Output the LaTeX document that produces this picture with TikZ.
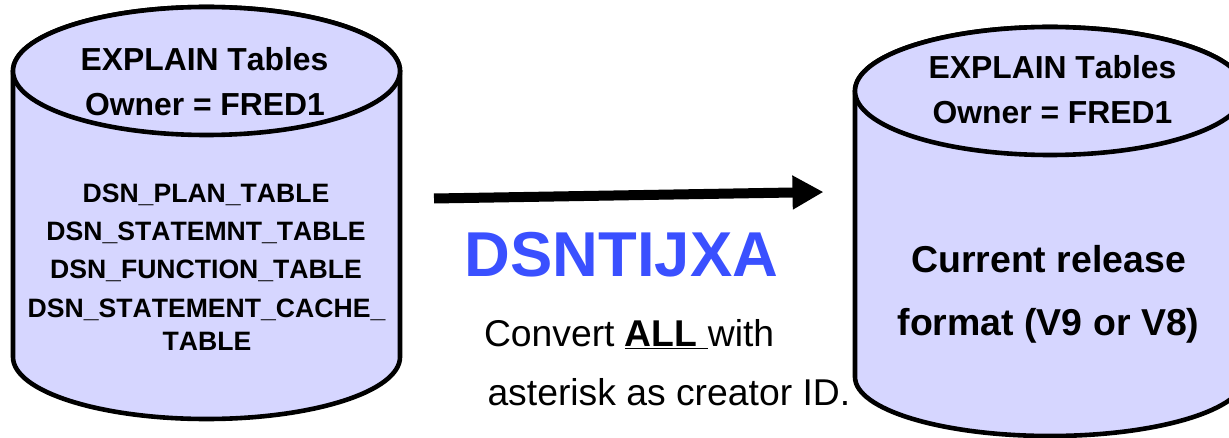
\documentclass[tikz,border=0pt]{standalone}
\usepackage{fontspec}
\setmainfont[Kerning=Off]{Liberation Sans}
\usetikzlibrary{arrows.meta}
\definecolor{cyl}{HTML}{D6D6FF}
\definecolor{dsnblue}{HTML}{3A50FF}
\newcommand{\fsz}[1]{\fontsize{#1}{#1}\selectfont}
\tikzset{
  cylbody/.style={draw=black,fill=cyl,line width=4.6pt,line join=round},
  label/.style={inner sep=0pt,outer sep=0pt,anchor=base,text=black},
  ownertext/.style={label,font=\fsz{31.85}\bfseries},
  listtext/.style={label,font=\fsz{26.6}\bfseries},
  bigtext/.style={label,font=\fsz{37.45}\bfseries},
  plaintext/.style={label,font=\fsz{37.3},anchor=base west},
}
\begin{document}
\begin{tikzpicture}[x=1pt,y=-1pt]
\useasboundingbox (0,0) rectangle (1229,438);
\clip (0,0) rectangle (1229,438);
% left cylinder
\draw[cylbody] (13,71) -- (13,357) arc[start angle=180,end angle=360,x radius=193.5pt,y radius=62pt] -- (400,71) arc[start angle=0,end angle=180,x radius=193.5pt,y radius=64pt] -- cycle;
\draw[cylbody] (206.5,71) ellipse[x radius=193.5pt,y radius=64pt];
% right cylinder
\draw[cylbody] (855,91) -- (855,377) arc[start angle=180,end angle=360,x radius=195pt,y radius=59pt] -- (1245,91) arc[start angle=0,end angle=180,x radius=195pt,y radius=64pt] -- cycle;
\draw[cylbody] (1050,91) ellipse[x radius=195pt,y radius=64pt];
% left labels
\node[ownertext] (la) at (204.5,71) {EXPLAIN Tables};
\node[ownertext] (lb) at (205,116) {Owner = FRED1};
\node[listtext] (l1) at (206,202.5) {DSN\_PLAN\_TABLE};
\node[listtext] (l2) at (206,240.5) {DSN\_STATEMNT\_TABLE};
\node[listtext] (l3) at (206,279) {DSN\_FUNCTION\_TABLE};
\node[listtext] (l4) at (206.5,317.5) {DSN\_STATEMENT\_CACHE\_};
\node[listtext] (l5) at (207,350.5) {TABLE};
% right labels
\node[ownertext] (ra) at (1052.5,79) {EXPLAIN Tables};
\node[ownertext] (rb) at (1052.5,124) {Owner = FRED1};
\node[bigtext] (rc) at (1048.5,272.5) {Current release};
\node[bigtext] (rd) at (1048.5,335.5) {format (V9 or V8)};
% middle
\coordinate (from) at (434,198.5);
\coordinate (to) at (823.5,192);
\draw[line width=10pt,-{Triangle[length=31pt,width=32pt]}] (from) -- (to);
\node[label,font=\fsz{63.4}\bfseries,text=dsnblue] (title) at (621.5,277) {DSNTIJXA};
\node[plaintext] (c1) at (484,347) {Convert \underline{\textbf{ALL}\ }with};
\node[plaintext] (c2) at (487.5,405) {asterisk as creator ID.};
\end{tikzpicture}
\end{document}
